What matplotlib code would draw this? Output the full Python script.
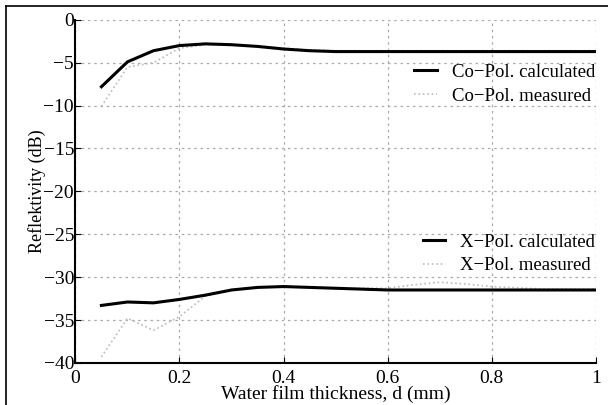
import numpy as np
import matplotlib.pyplot as plt
from matplotlib.lines import Line2D

plt.rcParams['font.family'] = ['Liberation Serif', 'DejaVu Serif']

# Dados
d_calc = [0.05, 0.1, 0.15, 0.2, 0.25, 0.3, 0.35, 0.4, 0.45, 0.5, 0.6, 0.7, 0.8, 0.9, 1.0]
co_calc = [-7.8, -4.9, -3.6, -3.0, -2.8, -2.9, -3.1, -3.4, -3.6, -3.7, -3.7, -3.7, -3.7, -3.7, -3.7]
x_calc = [-33.3, -32.9, -33.0, -32.6, -32.1, -31.5, -31.2, -31.1, -31.2, -31.3, -31.5, -31.5, -31.5, -31.5, -31.5]

d_meas = [0.05, 0.1, 0.15, 0.2, 0.25, 0.3, 0.35, 0.4, 0.45, 0.5, 0.6, 0.65, 0.7, 0.75, 0.8, 0.9, 1.0]
co_meas = [-10.1, -5.5, -5.0, -3.3, -2.9, -2.9, -3.1, -3.3, -3.5, -3.6, -3.6, -3.6, -3.6, -3.6, -3.6, -3.6, -3.6]
x_meas = [-39.3, -34.8, -36.2, -34.6, -32.2, -31.5, -31.2, -31.1, -31.2, -31.3, -31.3, -30.9, -30.6, -30.8, -31.1, -31.4, -31.4]

fig = plt.figure(figsize=(6.08, 4.05), dpi=100)
ax = fig.add_axes([0.124, 0.104, 0.856, 0.847])

ax.plot(d_meas, co_meas, color='#bbbbbb', linestyle=':', linewidth=1.2)
ax.plot(d_calc, co_calc, color='black', linewidth=2.2)
ax.plot(d_meas, x_meas, color='#bbbbbb', linestyle=':', linewidth=1.2)
ax.plot(d_calc, x_calc, color='black', linewidth=2.2)

ax.set_xlim(0, 1)
ax.set_ylim(-40, 0)
ax.set_xticks([0, 0.2, 0.4, 0.6, 0.8, 1])
ax.set_xticklabels(['0', '0.2', '0.4', '0.6', '0.8', '1'])
ax.set_yticks(range(-40, 1, 5))
ax.set_yticklabels([str(v).replace('-', '\u2212') for v in range(-40, 1, 5)])
ax.grid(True, linestyle=(0, (2, 3)), color='#aaaaaa', linewidth=0.9)
ax.tick_params(direction='in', length=4, labelsize=14, colors='black')
ax.tick_params(axis='x', pad=5)
ax.tick_params(axis='y', pad=1)
for s in ['top', 'right']:
    ax.spines[s].set_visible(False)
for s in ['left', 'bottom']:
    ax.spines[s].set_linewidth(1.5)

ax.set_xlabel('Water film thickness, d (mm)', fontsize=14, labelpad=-1)
ax.set_ylabel('Reflektivity (dB)', fontsize=13, labelpad=-2)

h_calc = Line2D([], [], color='black', linewidth=2.2)
h_meas = Line2D([], [], color='#bbbbbb', linestyle=':', linewidth=1.2)
leg1 = ax.legend([h_calc, h_meas], ['Co\u2212Pol. calculated', 'Co\u2212Pol. measured'],
                 loc='center right', bbox_to_anchor=(1.02, 0.8125), frameon=False,
                 fontsize=13.5, handlelength=1.2, labelspacing=0.35, borderaxespad=0.2)
ax.add_artist(leg1)
ax.legend([h_calc, h_meas], ['X\u2212Pol. calculated', 'X\u2212Pol. measured'],
          loc='center right', bbox_to_anchor=(1.02, 0.318), frameon=False,
          fontsize=13.5, handlelength=1.2, labelspacing=0.35, borderaxespad=0.2)

# moldura da imagem original (esquerda e topo)
fig.add_artist(Line2D([0.01, 0.01], [0.0, 0.985], color='black', linewidth=1.2, transform=fig.transFigure))
fig.add_artist(Line2D([0.01, 1.0], [0.985, 0.985], color='black', linewidth=1.2, transform=fig.transFigure))

fig.savefig('out.png', dpi=100)
